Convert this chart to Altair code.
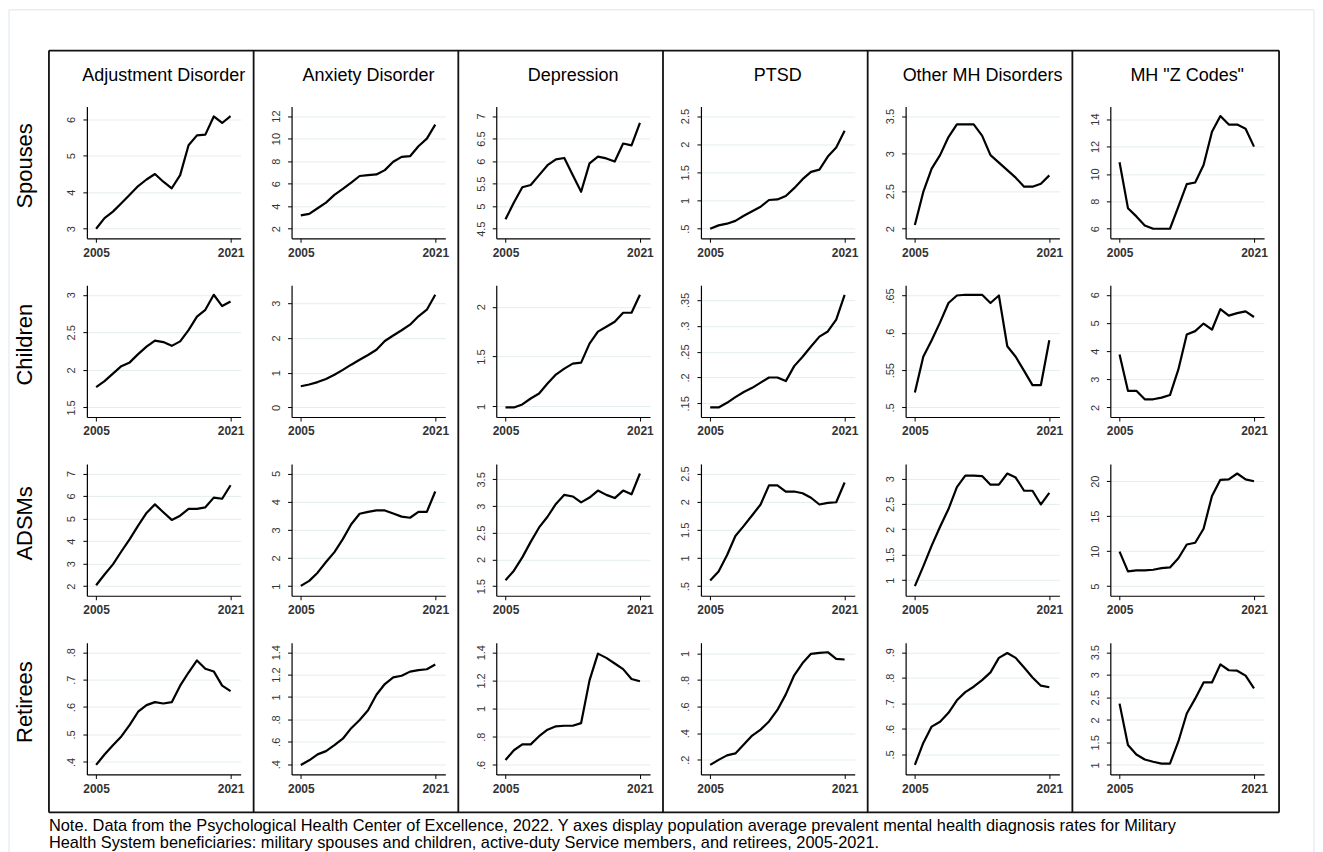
import altair as alt
import pandas as pd

years = list(range(2005, 2022))
conditions = ["Adjustment Disorder", "Anxiety Disorder", "Depression", "PTSD",
              "Other MH Disorders", 'MH "Z Codes"']
groups = ["Spouses", "Children", "ADSMs", "Retirees"]

# ---- Spouses ----
spouses_adjustment = [3.0, 3.29, 3.47, 3.7, 3.93, 4.17, 4.35, 4.5, 4.29, 4.11, 4.47, 5.29, 5.56, 5.58, 6.08, 5.9, 6.09]
spouses_anxiety = [3.18, 3.32, 3.82, 4.32, 5.0, 5.53, 6.09, 6.68, 6.76, 6.82, 7.2, 7.94, 8.38, 8.44, 9.32, 10.0, 11.24]
spouses_depression = [4.71, 5.08, 5.42, 5.47, 5.69, 5.91, 6.04, 6.07, 5.69, 5.32, 5.95, 6.1, 6.06, 5.99, 6.39, 6.35, 6.85]
spouses_ptsd = [0.5, 0.56, 0.59, 0.64, 0.73, 0.81, 0.89, 1.01, 1.02, 1.08, 1.22, 1.38, 1.51, 1.55, 1.78, 1.94, 2.24]
spouses_other = [2.05, 2.49, 2.8, 2.98, 3.22, 3.39, 3.39, 3.39, 3.24, 2.98, 2.88, 2.78, 2.68, 2.56, 2.56, 2.6, 2.71]
spouses_zcodes = [10.85, 7.5, 6.9, 6.24, 6.0, 6.0, 6.0, 7.62, 9.25, 9.37, 10.65, 13.08, 14.22, 13.6, 13.6, 13.3, 11.99]

# ---- Children ----
children_adjustment = [1.77, 1.85, 1.95, 2.05, 2.1, 2.21, 2.31, 2.39, 2.37, 2.32, 2.38, 2.53, 2.71, 2.8, 3.0, 2.85, 2.91]
children_anxiety = [0.61, 0.66, 0.73, 0.82, 0.94, 1.08, 1.23, 1.37, 1.51, 1.66, 1.91, 2.07, 2.22, 2.38, 2.62, 2.81, 3.24]
children_depression = [0.99, 0.99, 1.02, 1.08, 1.13, 1.23, 1.32, 1.38, 1.43, 1.44, 1.63, 1.75, 1.8, 1.85, 1.94, 1.94, 2.12]
children_ptsd = [0.142, 0.142, 0.151, 0.162, 0.172, 0.18, 0.19, 0.2, 0.2, 0.193, 0.222, 0.24, 0.26, 0.279, 0.289, 0.312, 0.36]
children_other = [0.52, 0.568, 0.59, 0.614, 0.64, 0.65, 0.651, 0.651, 0.651, 0.64, 0.65, 0.582, 0.568, 0.549, 0.53, 0.53, 0.59]
children_zcodes = [3.88, 2.59, 2.59, 2.29, 2.29, 2.35, 2.44, 3.35, 4.59, 4.71, 4.98, 4.76, 5.49, 5.26, 5.35, 5.41, 5.21]

# ---- Active-duty Service members ----
adsms_adjustment = [2.04, 2.52, 2.97, 3.54, 4.09, 4.69, 5.25, 5.63, 5.28, 4.94, 5.13, 5.43, 5.43, 5.5, 5.93, 5.88, 6.48]
adsms_anxiety = [1.01, 1.19, 1.48, 1.86, 2.21, 2.67, 3.2, 3.57, 3.64, 3.69, 3.69, 3.58, 3.47, 3.43, 3.64, 3.64, 4.36]
adsms_depression = [1.61, 1.79, 2.04, 2.33, 2.6, 2.8, 3.04, 3.21, 3.18, 3.07, 3.16, 3.29, 3.21, 3.15, 3.29, 3.22, 3.61]
adsms_ptsd = [0.6, 0.76, 1.05, 1.39, 1.57, 1.76, 1.95, 2.29, 2.29, 2.18, 2.18, 2.15, 2.07, 1.95, 1.98, 1.99, 2.34]
adsms_other = [0.88, 1.27, 1.68, 2.05, 2.4, 2.83, 3.06, 3.06, 3.05, 2.88, 2.88, 3.1, 3.02, 2.76, 2.76, 2.49, 2.72]
adsms_zcodes = [9.93, 7.11, 7.25, 7.25, 7.35, 7.58, 7.68, 8.99, 10.96, 11.2, 13.2, 17.9, 20.2, 20.26, 21.1, 20.26, 20.0]

# ---- Retirees ----
retirees_adjustment = [0.389, 0.427, 0.461, 0.493, 0.535, 0.583, 0.607, 0.618, 0.613, 0.618, 0.678, 0.726, 0.77, 0.74, 0.73, 0.678, 0.658]
retirees_anxiety = [0.394, 0.435, 0.488, 0.517, 0.57, 0.628, 0.722, 0.795, 0.882, 1.02, 1.116, 1.175, 1.19, 1.227, 1.24, 1.248, 1.29]
retirees_depression = [0.635, 0.704, 0.746, 0.746, 0.804, 0.85, 0.874, 0.878, 0.878, 0.897, 1.2, 1.39, 1.36, 1.32, 1.28, 1.21, 1.194]
retirees_ptsd = [0.16, 0.198, 0.232, 0.247, 0.314, 0.381, 0.426, 0.488, 0.575, 0.692, 0.836, 0.928, 0.998, 1.005, 1.01, 0.96, 0.955]
retirees_other = [0.459, 0.545, 0.609, 0.628, 0.663, 0.712, 0.744, 0.765, 0.791, 0.821, 0.878, 0.897, 0.878, 0.84, 0.801, 0.769, 0.763]
retirees_zcodes = [2.36, 1.44, 1.23, 1.12, 1.07, 1.03, 1.03, 1.52, 2.14, 2.47, 2.83, 2.83, 3.23, 3.1, 3.09, 2.98, 2.7]

# ---- y tick labels per panel ----
spouses_ticks = [[3, 4, 5, 6], [2, 4, 6, 8, 10, 12], [4.5, 5, 5.5, 6, 6.5, 7],
                 [0.5, 1, 1.5, 2, 2.5], [2, 2.5, 3, 3.5], [6, 8, 10, 12, 14]]
children_ticks = [[1.5, 2, 2.5, 3], [0, 1, 2, 3], [1, 1.5, 2],
                  [0.15, 0.2, 0.25, 0.3, 0.35], [0.5, 0.55, 0.6, 0.65], [2, 3, 4, 5, 6]]
adsms_ticks = [[2, 3, 4, 5, 6, 7], [1, 2, 3, 4, 5], [1.5, 2, 2.5, 3, 3.5],
               [0.5, 1, 1.5, 2, 2.5], [1, 1.5, 2, 2.5, 3], [5, 10, 15, 20]]
retirees_ticks = [[0.4, 0.5, 0.6, 0.7, 0.8], [0.4, 0.6, 0.8, 1, 1.2, 1.4], [0.6, 0.8, 1, 1.2, 1.4],
                  [0.2, 0.4, 0.6, 0.8, 1], [0.5, 0.6, 0.7, 0.8, 0.9], [1, 1.5, 2, 2.5, 3, 3.5]]
x_ticks = [2005, 2021]

note_lines = [
    "Note. Data from the Psychological Health Center of Excellence, 2022. Y axes display population average prevalent mental health diagnosis rates for Military",
    "Health System beneficiaries: military spouses and children, active-duty Service members, and retirees, 2005-2021.",
]

series = [
    [spouses_adjustment, spouses_anxiety, spouses_depression, spouses_ptsd, spouses_other, spouses_zcodes],
    [children_adjustment, children_anxiety, children_depression, children_ptsd, children_other, children_zcodes],
    [adsms_adjustment, adsms_anxiety, adsms_depression, adsms_ptsd, adsms_other, adsms_zcodes],
    [retirees_adjustment, retirees_anxiety, retirees_depression, retirees_ptsd, retirees_other, retirees_zcodes],
]
ticks = [spouses_ticks, children_ticks, adsms_ticks, retirees_ticks]

FONT = "Liberation Sans"
W, H = 154, 132
COL_STEP, ROW_STEP = 205, 179
one = pd.DataFrame({"k": [0]})


def frame_rule(color, width, x, x2, y, y2):
    return alt.Chart(one).mark_rule(color=color, strokeWidth=width).encode(
        x=alt.value(x), x2=alt.value(x2), y=alt.value(y), y2=alt.value(y2))


def panel(r, c):
    vals = series[r][c]
    tk = ticks[r][c]
    lo = min(min(vals), tk[0])
    hi = max(max(vals), tk[-1])
    pad = (hi - lo) * 0.0848
    df = pd.DataFrame({"year": years, "rate": vals})

    axis_kw = dict(values=tk, format="~g",
                   labelExpr="datum.value > 0 && datum.value < 1 ? substring(datum.label, 1) : datum.label",
                   labelAngle=270, labelAlign="center", labelBaseline="bottom",
                   labelFontSize=11, labelColor="#333333", labelFont=FONT, labelPadding=6,
                   tickSize=4, tickColor="#000000", domainColor="#000000", domainWidth=1.2,
                   grid=True, gridColor="#e4edef", gridWidth=1)
    if c == 0:
        axis_kw.update(title=groups[r], titleFont=FONT, titleFontSize=22, titleFontWeight="normal",
                       titleColor="#000000", titleAngle=270, titleAlign="center",
                       titleBaseline="alphabetic", titleX=-55, titleY=59)
        y_enc = alt.Y("rate:Q", scale=alt.Scale(domain=[lo - pad, hi + pad], nice=False, zero=False),
                      axis=alt.Axis(**axis_kw))
    else:
        y_enc = alt.Y("rate:Q", title=None,
                      scale=alt.Scale(domain=[lo - pad, hi + pad], nice=False, zero=False),
                      axis=alt.Axis(**axis_kw))

    x_enc = alt.X("year:Q", title=None,
                  scale=alt.Scale(domain=[2003.9, 2022.2], nice=False, zero=False),
                  axis=alt.Axis(values=x_ticks, format="d", labelFontSize=12, labelFont=FONT,
                                labelFontWeight="bold", labelColor="#333333", labelPadding=5,
                                tickSize=4, tickColor="#000000", domainColor="#000000",
                                domainWidth=1.2, grid=False, labelFlush=False))

    line = alt.Chart(df).mark_line(color="#000000", strokeWidth=2.2, strokeJoin="round").encode(
        x=x_enc, y=y_enc)
    layers = [line]

    if r == 0:
        # column heading
        layers.append(alt.Chart(one).mark_text(
            text=conditions[c], align="center", baseline="alphabetic", font=FONT,
            fontSize=18, color="#000000").encode(x=alt.value(W / 2), y=alt.value(-26)))
        # column box divider
        layers.append(frame_rule("#111111", 1.8, -38, -38, -56, 707))
        if c == 5:
            layers.append(frame_rule("#111111", 1.8, 169, 169, -56, 707))
        if c == 0:
            layers.append(frame_rule("#111111", 1.8, -38, 5 * COL_STEP + 169, -56, -56))
            layers.append(frame_rule("#111111", 1.8, -38, 5 * COL_STEP + 169, 707, 707))
            # faint outer page frame
            layers.append(frame_rule("#e6eef2", 1.5, -78, 1229, -97, -97))
            layers.append(frame_rule("#e6eef2", 1.5, -78, -78, -97, 747))
            layers.append(frame_rule("#e6eef2", 1.5, 1229, 1229, -97, 747))
    if r == 3 and c == 0:
        layers.append(alt.Chart(one).mark_text(
            text=note_lines, align="left", baseline="alphabetic", font=FONT,
            fontSize=16.4, lineHeight=16.5, color="#000000").encode(
            x=alt.value(-38), y=alt.value(189)))

    return alt.layer(*layers).properties(width=W, height=H)


panels = [panel(r, c) for r in range(4) for c in range(6)]
chart = alt.concat(
    *panels, columns=6,
    spacing=alt.RowColnumber(row=ROW_STEP - H, column=COL_STEP - W),
    bounds="flush",
).properties(padding=0, background="#ffffff").configure_view(strokeWidth=0)

chart.save("out.html", embed_options={"renderer": "svg", "actions": False})
